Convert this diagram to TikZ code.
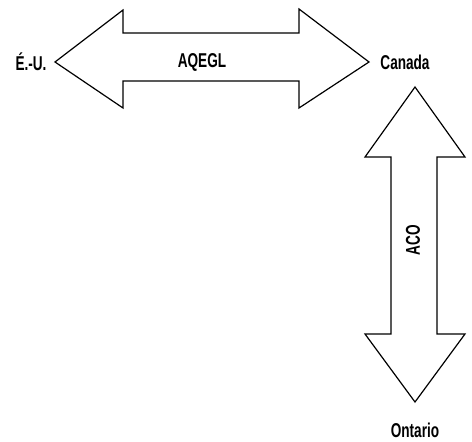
\documentclass[tikz,border=0pt]{standalone}
\usepackage{fontspec}
\setmainfont{Liberation Sans}[FakeStretch=0.68]
\begin{document}
\begin{tikzpicture}[x=1pt,y=-1pt,
  lbl/.style={font=\bfseries\fontsize{20}{22}\selectfont, inner sep=0pt},
  arr/.style={draw=black, line width=1.2pt, line join=miter}]
\useasboundingbox (0,0) rectangle (472,442);
\draw[arr] (55,62) -- (123,10) -- (123,33) -- (299,33) -- (299,9) -- (369,62)
  -- (299,108) -- (299,81) -- (123,81) -- (123,108) -- cycle;
\draw[arr] (415,87) -- (465,157) -- (437,157) -- (437,334) -- (465,334) -- (415,402)
  -- (365,334) -- (391,334) -- (391,157) -- (365,157) -- cycle;
\node[lbl] (eu) at (31,62) {É.-U.};
\node[lbl] (aqegl) at (202,62) {AQEGL};
\node[lbl] (canada) at (405,62) {Canada};
\node[lbl, rotate=90] (aco) at (413,240) {ACO};
\node[lbl] (ontario) at (415,430) {Ontario};
\end{tikzpicture}
\end{document}
